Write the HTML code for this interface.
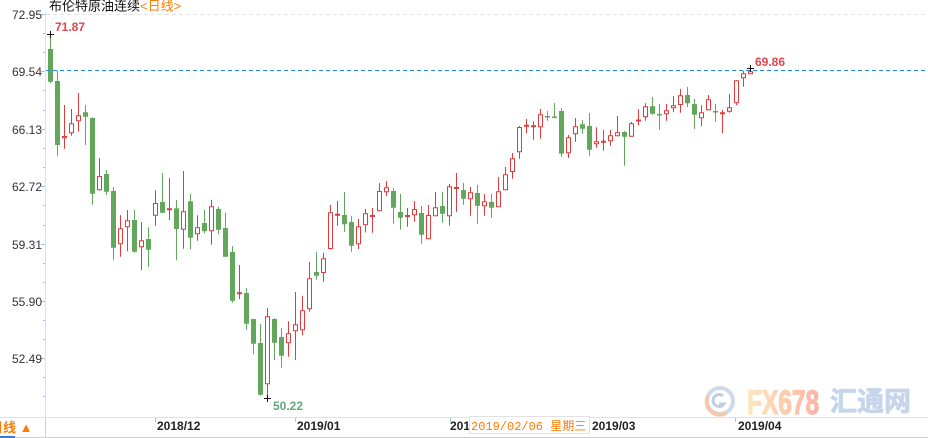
<!DOCTYPE html>
<html><head><meta charset="utf-8"><style>
html,body{margin:0;padding:0;background:#fff;}
svg{display:block;}
</style></head><body>
<svg width="928" height="438" viewBox="0 0 928 438" xmlns="http://www.w3.org/2000/svg">
<defs>
<linearGradient id="fxg" x1="0" x2="1" y1="0" y2="0">
<stop offset="0" stop-color="#fde6b8"/><stop offset="0.5" stop-color="#fbc9a6"/><stop offset="1" stop-color="#f9ae9f"/>
</linearGradient>
</defs>
<rect width="928" height="438" fill="#fff"/>
<!-- watermark -->
<g opacity="0.9">
<circle cx="720" cy="401" r="13" fill="none" stroke="#c9d6ea" stroke-width="4"/>
<path d="M708 396 A13 13 0 0 0 726 413" fill="none" stroke="#f7c2a0" stroke-width="4"/>
<path d="M723 396 A6 6 0 1 0 724 404 L719 404" fill="none" stroke="#b9c9e2" stroke-width="3"/>
<text x="747" y="414" font-family="Liberation Sans, sans-serif" font-weight="bold" font-size="34" fill="url(#fxg)" stroke="url(#fxg)" stroke-width="1.2" transform="translate(747 0) scale(0.72 1) translate(-747 0)">FX678</text>
<text x="830" y="411" font-family="Liberation Sans, 'Noto Sans CJK SC', sans-serif" font-weight="bold" font-size="27" fill="#bfd1e8" stroke="#bfd1e8" stroke-width="0.8">汇通网</text>
</g>
<!-- title -->
<text x="49" y="10.5" font-family="Liberation Sans, 'Noto Sans CJK SC', sans-serif" font-size="13" fill="#111">布伦特原油连续<tspan fill="#ff7d00">&lt;日线&gt;</tspan></text>
<!-- grid lines -->
<line x1="46" y1="14.5" x2="928" y2="14.5" stroke="#e2e2e2" stroke-dasharray="4,3"/>
<!-- y axis -->
<line x1="45.5" y1="12" x2="45.5" y2="417" stroke="#d9e3ec"/>
<g stroke="#9fc5e6">
<path d="M41 14.5H45M41 71.5H45M41 129.5H45M41 186.5H45M41 244.5H45M41 301.5H45M41 358.5H45"/>
<path d="M43 33.5H45M43 52.5H45M43 90.5H45M43 110.5H45M43 148.5H45M43 167.5H45M43 205.5H45M43 225.5H45M43 263.5H45M43 282.5H45M43 320.5H45M43 339.5H45M43 377.5H45M43 396.5H45"/>
</g>
<g font-family="Liberation Sans, sans-serif" font-size="12" fill="#333" text-anchor="end">
<text x="42" y="19">72.95</text>
<text x="42" y="76">69.54</text>
<text x="42" y="134">66.13</text>
<text x="42" y="191">62.72</text>
<text x="42" y="249">59.31</text>
<text x="42" y="306">55.90</text>
<text x="42" y="363">52.49</text>
</g>
<!-- wicks -->
<path fill="none" stroke="#62a75b" stroke-width="1" d="M50.5 34V83.3M57.5 70.7V155.7M85.5 105V145M92.5 117.3V204.7M106.5 170V195M113.5 187V259.7M134.5 210V252.7M148.5 227.3V267M162.5 173V213M176.5 200V260.3M190.5 194V249.3M204.5 210V233.3M218.5 206.7V234.3M225.5 212.7V256.7M232.5 246V302.7M246.5 288V329.7M253.5 319V354.3M260.5 324V395.7M274.5 318.3V360M281.5 328V367.7M316.5 252V279.7M344.5 192V232M351.5 216.3V251.7M393.5 188V223.7M400.5 194V229.7M421.5 206V243.7M442.5 192V222.7M463.5 183V204.7M477.5 185V223.7M491.5 194V217.7M547.5 111V120.7M554.5 103V117.3M561.5 108V156.7M582.5 120V133.7M589.5 113V155.7M624.5 131V165.7M652.5 97V114.7M659.5 104V129.7M687.5 87V107.3M694.5 99V129M715.5 104V121.7"/>
<path fill="none" stroke="#de3d3d" stroke-width="1" d="M64.5 105V148.7M71.5 109V135.7M78.5 93V131.7M99.5 158V190.7M120.5 215.3V256.7M127.5 210V251.3M141.5 222V270.3M155.5 190.3V225.7M169.5 178V220M183.5 171V248.7M197.5 215.3V240.7M211.5 200V244.7M239.5 265V299.3M267.5 308V398.7M288.5 321.3V356.7M295.5 292V360M302.5 296V335.3M309.5 262V311.7M323.5 252.7V281.7M330.5 205V249.7M337.5 201V225.7M358.5 219V249M365.5 209V232.5M372.5 208V232.7M379.5 183V211.3M386.5 181V196M407.5 208V226.7M414.5 201V221.7M428.5 205V239.3M435.5 192V216.3M449.5 184V225.7M456.5 173V211.7M470.5 187V215.7M484.5 194V215.7M498.5 177V207.3M505.5 167V190.3M512.5 153V178.7M519.5 126V158.7M526.5 119V133.3M533.5 121.3V139.7M540.5 109V138.7M568.5 135V158M575.5 118V141.7M596.5 127.3V147.7M603.5 130V150.7M610.5 130V145.7M617.5 116V136.3M631.5 122V136.7M638.5 109.3V125.3M645.5 103.3V120.7M666.5 104V120.7M673.5 96V112.3M680.5 89V112.7M701.5 105.3V126.3M708.5 95V110.3M722.5 110V133.3M729.5 94V112.7M736.5 80.3V105M743.5 71V86.7M750.5 66.7V74.3"/>
<!-- green bodies -->
<path fill="#62a75b" stroke="none" d="M48 49h5v32.7h-5zM55 81h5v64h-5zM83 112.3h5v4.4h-5zM90 118h5v75.7h-5zM104 174h5v17.7h-5zM111 191h5v56.7h-5zM132 220h5v31.7h-5zM146 239h5v10.7h-5zM160 202h5v10.7h-5zM174 208.3h5v20.7h-5zM188 201.3h5v36.4h-5zM202 223h5v8.3h-5zM216 209h5v20.7h-5zM223 228h5v28.7h-5zM230 252h5v48.7h-5zM244 293h5v30.7h-5zM251 319h5v24.7h-5zM258 343h5v51.7h-5zM272 319h5v23.7h-5zM279 337h5v18.7h-5zM314 272h5v3.7h-5zM342 215h5v9.3h-5zM349 222h5v23.7h-5zM391 191h5v16.7h-5zM398 212h5v5.7h-5zM419 213h5v21.7h-5zM440 206h5v7.7h-5zM461 190h5v8.7h-5zM475 193h5v12.7h-5zM489 202h5v5.7h-5zM545 116h5v1.5h-5zM552 116.5h5v1.5h-5zM559 111h5v42.7h-5zM580 124.3h5v4.4h-5zM587 126h5v23.7h-5zM622 132h5v4.7h-5zM650 106.3h5v7.4h-5zM657 114h5v1.5h-5zM685 95h5v8.3h-5zM692 104h5v10.7h-5zM713 111h5v1.5h-5z"/>
<!-- red bodies -->
<path fill="#fff" stroke="#de3d3d" stroke-width="1" d="M62.5 136.5h4v1.3h-4zM69.5 123.8h4v9h-4zM76.5 115.8h4v5h-4zM97.5 176.5h4v13.3h-4zM118.5 228.8h4v15h-4zM125.5 220.8h4v6h-4zM139.5 240.8h4v6h-4zM153.5 203.5h4v11.7h-4zM167.5 208.8h4v1h-4zM181.5 211.8h4v17.4h-4zM195.5 227.8h4v6h-4zM209.5 206.8h4v24h-4zM237.5 292.8h4v1h-4zM265.5 316.8h4v67h-4zM286.5 333.8h4v9h-4zM293.5 324.8h4v6h-4zM300.5 310.8h4v19h-4zM307.5 278.8h4v30h-4zM321.5 258.8h4v13.7h-4zM328.5 212.8h4v35.7h-4zM335.5 214.2h4v1h-4zM356.5 226.8h4v17h-4zM363.5 213.8h4v11h-4zM370.5 215.5h4v1h-4zM377.5 191.5h4v19.3h-4zM384.5 187.8h4v4h-4zM405.5 215.5h4v1h-4zM412.5 209.5h4v5.3h-4zM426.5 215.5h4v23.3h-4zM433.5 207.8h4v8h-4zM447.5 186.8h4v29h-4zM454.5 187.5h4v1h-4zM468.5 192.8h4v6h-4zM482.5 201.8h4v4h-4zM496.5 191.8h4v15h-4zM503.5 174.8h4v15h-4zM510.5 158.8h4v12.7h-4zM517.5 127.5h4v24.3h-4zM524.5 125.2h4v1h-4zM531.5 125.8h4v1h-4zM538.5 114.8h4v12h-4zM566.5 137.8h4v15h-4zM573.5 126.8h4v7h-4zM594.5 141.8h4v2h-4zM601.5 141.2h4v1h-4zM608.5 135.8h4v5h-4zM615.5 132.8h4v3h-4zM629.5 123.8h4v12.4h-4zM636.5 120h4v1h-4zM643.5 106.8h4v10h-4zM664.5 110.8h4v3h-4zM671.5 105.8h4v2h-4zM678.5 95.8h4v8.7h-4zM699.5 112.8h4v5h-4zM706.5 99.8h4v10h-4zM720.5 112.8h4v1h-4zM727.5 107.8h4v3.4h-4zM734.5 80.8h4v22h-4zM741.5 73.8h4v4h-4zM748.5 71.8h4v2h-4z"/>
<!-- last price dashed line -->
<line x1="46" y1="70.5" x2="928" y2="70.5" stroke="#1a88f0" stroke-dasharray="4,3"/>
<!-- markers -->
<path stroke="#111" stroke-width="1" fill="none" d="M47 34.5H54M50.5 31V38M264 398.5H271M267.5 395V402M747 68.5H754M750.5 65V72"/>
<g font-family="Liberation Sans, sans-serif" font-size="12" font-weight="bold">
<text x="55" y="31" fill="#e0454f">71.87</text>
<text x="273" y="410" fill="#62a87c">50.22</text>
<text x="755" y="66" fill="#e0454f">69.86</text>
</g>
<!-- bottom axis -->
<line x1="0" y1="417.5" x2="928" y2="417.5" stroke="#dde3e8"/>
<line x1="0" y1="437.5" x2="928" y2="437.5" stroke="#c9ced3"/>
<line x1="45.5" y1="418" x2="45.5" y2="437" stroke="#c9ced3"/>
<rect x="0" y="436" width="15" height="2" fill="#3a7bd5"/>
<text x="-10" y="432" font-family="Liberation Sans, 'Noto Sans CJK SC', sans-serif" font-size="13" font-weight="bold" fill="#ff7a00">日线 ▲</text>
<path stroke="#a9c3dc" d="M155.5 418V422M295.5 418V422M450.5 418V422M589.5 418V422M735.5 418V422"/>
<g font-family="Liberation Sans, sans-serif" font-size="12" font-weight="bold" fill="#222">
<text x="157" y="430">2018/12</text>
<text x="297" y="430">2019/01</text>
<text x="450" y="430">2019/02</text>
<text x="592" y="430">2019/03</text>
<text x="738" y="430">2019/04</text>
</g>
<rect x="469.5" y="416.5" width="120" height="17" fill="#fff" stroke="#e2e2e2"/>
<text x="471" y="430" font-family="Liberation Mono, 'Noto Sans CJK SC', monospace" font-size="12" fill="#ff7a00">2019/02/06 <tspan font-family="'Noto Sans CJK SC', sans-serif">星期三</tspan></text>
</svg>
</body></html>
